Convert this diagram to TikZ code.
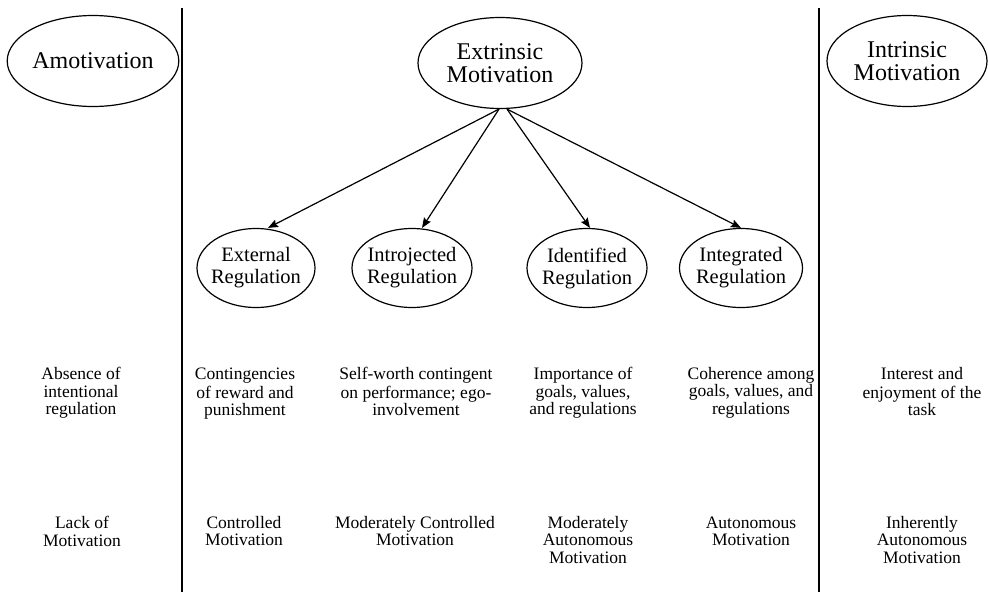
\documentclass[tikz,border=0pt]{standalone}
\usepackage{fontspec}
\setmainfont{Liberation Serif}
\usetikzlibrary{shapes.geometric,arrows.meta}

\begin{document}
\begin{tikzpicture}[x=1pt,y=-1pt,
  bigoval/.style={ellipse,draw,line width=1.2pt,inner sep=0pt,
    minimum width=164pt,minimum height=91pt,align=center,
    font=\fontsize{24}{23.5}\selectfont},
  smalloval/.style={ellipse,draw,line width=1.2pt,inner xsep=-6pt,inner ysep=0pt,
    minimum width=120pt,minimum height=79pt,align=center,
    font=\fontsize{20.5}{22}\selectfont},
  lbl/.style={anchor=north,inner sep=0pt,align=center,
    font=\fontsize{17.5}{17.5}\selectfont},
  divider/.style={line width=2.4pt},
  link/.style={line width=1.2pt,-{Stealth[length=10pt,width=8pt,inset=1.5pt]}}]
\useasboundingbox (0,0) rectangle (988,592);

% column dividers
\draw[divider] (182,8) -- (182,592);
\draw[divider] (819,8) -- (819,592);

% top row of motivation types
\node[bigoval] (amo) at (93,61) {Amotivation};
\node[bigoval] (ext) at (500,63) {Extrinsic\\Motivation};
\node[bigoval,minimum width=160pt] (intr) at (907,61) {Intrinsic\\Motivation};

% regulation styles under extrinsic motivation
\node[smalloval,minimum width=118pt] (er) at (256,268) {External\\Regulation};
\node[smalloval] (ij) at (412,268) {Introjected\\Regulation};
\node[smalloval] (id) at (587,268) {Identified\\Regulation};
\node[smalloval,minimum width=123pt] (ig) at (741,268) {Integrated\\Regulation};

\draw[link] ([xshift=-1pt]ext.south) -- ([xshift=12pt]er.north);
\draw[link] ([xshift=-1pt]ext.south) -- ([xshift=10pt]ij.north);
\draw[link] ([xshift=7pt]ext.south) -- ([xshift=3pt]id.north);
\draw[link] ([xshift=7pt]ext.south) -- (ig.north);

% regulatory processes
\node[lbl] (p0) at (81,367) {\strut Absence of\\intentional\\regulation};
\node[lbl] (p1) at (245,367) {\strut Contingencies\\of reward and\\punishment};
\node[lbl] (p2) at (416,367) {\strut Self-worth contingent\\on performance; ego-\\involvement};
\node[lbl] (p3) at (583,367) {\strut Importance of\\goals, values,\\and regulations};
\node[lbl] (p4) at (751,367) {\strut Coherence among\\goals, values, and\\regulations};
\node[lbl] (p5) at (922,367) {\strut Interest and\\enjoyment of the\\task};

% degree of autonomy
\node[lbl] (m0) at (82,516) {\strut Lack of\\Motivation};
\node[lbl] (m1) at (244,516) {\strut Controlled\\Motivation};
\node[lbl] (m2) at (415,516) {\strut Moderately Controlled\\Motivation};
\node[lbl] (m3) at (588,516) {\strut Moderately\\Autonomous\\Motivation};
\node[lbl] (m4) at (751,516) {\strut Autonomous\\Motivation};
\node[lbl] (m5) at (922,516) {\strut Inherently\\Autonomous\\Motivation};
\end{tikzpicture}
\end{document}
